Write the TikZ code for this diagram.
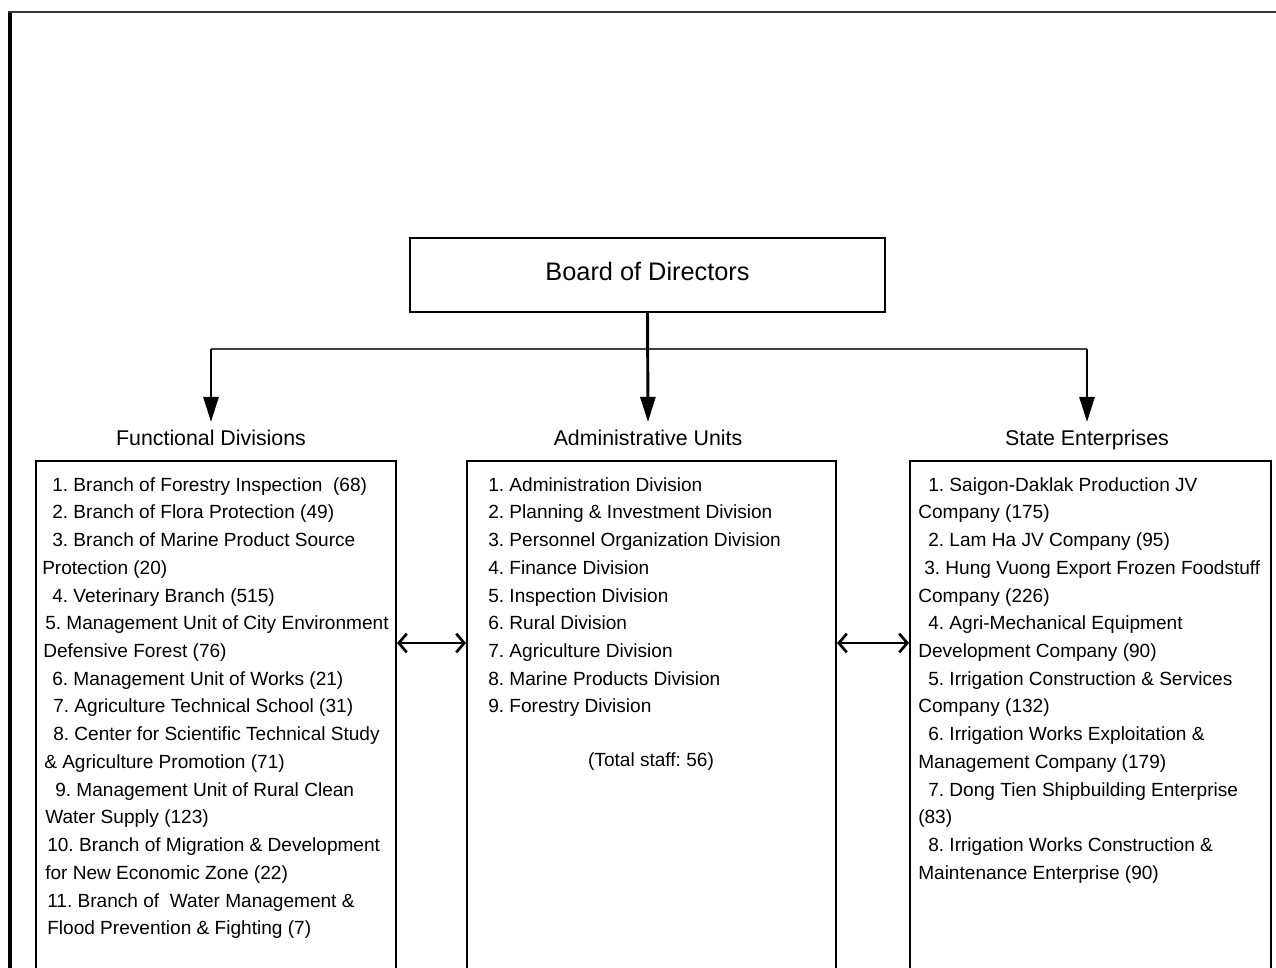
\documentclass[tikz,border=0pt]{standalone}
\usepackage{fontspec}
\setmainfont{Liberation Sans}
\usetikzlibrary{arrows.meta}
\newcommand\pad[1]{\hspace*{#1pt}}
\frenchspacing
\begin{document}
\begin{tikzpicture}[x=0.75pt,y=-0.75pt,
  unitbox/.style={draw=black, line width=1.5pt, inner sep=0pt, anchor=north west},
  listtext/.style={anchor=north west, inner sep=0pt, align=left,
    font=\fontsize{14.3pt}{20.8pt}\selectfont},
  head/.style={anchor=base, inner xsep=0pt, inner ysep=5.5pt,
    font=\fontsize{16pt}{19pt}\selectfont},
  feed/.style={line width=2.2pt, -{Triangle[length=18.75pt,width=11.25pt]}},
  bus/.style={line width=1pt, draw=black!75},
  link/.style={line width=2pt,
    {Straight Barb[length=6pt,width=14pt,line width=2pt]}-{Straight Barb[length=6pt,width=14pt,line width=2pt]}},
]
\useasboundingbox (0,0) rectangle (1276,967);

% outer frame
\draw[line width=3pt] (10,12) -- (10,970);
\draw[line width=1.8pt, black!80] (8,12) -- (1278,12);

% top box
\node[draw=black, line width=1.1pt, minimum width=475*0.75pt, minimum height=74*0.75pt,
  font=\fontsize{19pt}{22pt}\selectfont] (board) at (647.5,275)
  {\raisebox{6pt}{Board of Directors}};

% column headings
\node[head] (fhead) at (211,445) {Functional Divisions};
\node[head] (ahead) at (648,445) {Administrative Units};
\node[head] (shead) at (1087,445) {State Enterprises};

% connectors from the board
\coordinate (j) at (648,349);
\draw[bus] (fhead.north |- j) -- (shead.north |- j);
\draw[feed] (fhead.north |- j) -- (fhead.north);
\draw[feed] (board.south) -- (ahead.north);
\draw[feed] (shead.north |- j) -- (shead.north);

% column boxes
\node[unitbox, minimum width=360*0.75pt, minimum height=515*0.75pt] (fbox) at (35,460) {};
\node[unitbox, minimum width=369*0.75pt, minimum height=515*0.75pt] (abox) at (466,460) {};
\node[unitbox, minimum width=361*0.75pt, minimum height=515*0.75pt] (sbox) at (909,460) {};

% links between columns
\coordinate (m) at (0,643);
\draw[link] (fbox.east |- m) -- (abox.west |- m);
\draw[link] (abox.east |- m) -- (sbox.west |- m);

% column contents
\node[listtext] (flist) at (42,477) {%
\pad{7.5}1. Branch of Forestry Inspection\ \ (68)\\
\pad{7.5}2. Branch of Flora Protection (49)\\
\pad{7.5}3. Branch of Marine Product Source\\
Protection (20)\\
\pad{7.5}4. Veterinary Branch (515)\\
\pad{2.25}5. Management Unit of City Environment\\
\pad{0.75}Defensive Forest (76)\\
\pad{7.5}6. Management Unit of Works (21)\\
\pad{8.25}7. Agriculture Technical School (31)\\
\pad{8.25}8. Center for Scientific Technical Study\\
\pad{1.5}\& Agriculture Promotion (71)\\
\pad{9.75}9. Management Unit of Rural Clean\\
\pad{2.25}Water Supply (123)\\
\pad{3.75}10. Branch of Migration \& Development\\
\pad{2.25}for New Economic Zone (22)\\
\pad{3.75}11. Branch of\ \ Water Management \&\\
\pad{3.75}Flood Prevention \& Fighting (7)};

\node[listtext] (alist) at (488,477) {%
1. Administration Division\\
2. Planning \& Investment Division\\
3. Personnel Organization Division\\
4. Finance Division\\
5. Inspection Division\\
6. Rural Division\\
7. Agriculture Division\\
8. Marine Products Division\\
9. Forestry Division};
\node[anchor=base, inner sep=0pt, font=\fontsize{14.3pt}{20.8pt}\selectfont]
  (staff) at (651,766) {(Total staff: 56)};

\node[listtext] (slist) at (918,477) {%
\pad{7.5}1. Saigon-Daklak Production JV\\
Company (175)\\
\pad{7.5}2. Lam Ha JV Company (95)\\
\pad{4.5}3. Hung Vuong Export Frozen Foodstuff\\
Company (226)\\
\pad{7.5}4. Agri-Mechanical Equipment\\
Development Company (90)\\
\pad{7.5}5. Irrigation Construction \& Services\\
Company (132)\\
\pad{7.5}6. Irrigation Works Exploitation \&\\
Management Company (179)\\
\pad{7.5}7. Dong Tien Shipbuilding Enterprise\\
(83)\\
\pad{7.5}8. Irrigation Works Construction \&\\
Maintenance Enterprise (90)};
\end{tikzpicture}
\end{document}
